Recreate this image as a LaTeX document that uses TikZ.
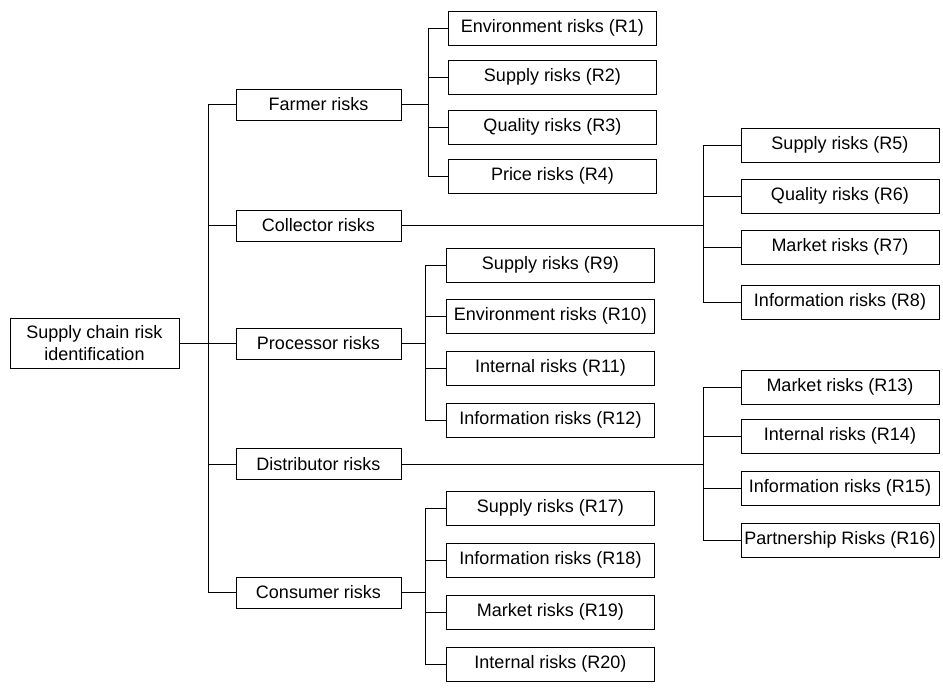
\documentclass[tikz,border=0pt]{standalone}
\usepackage{fontspec}
\setmainfont{Liberation Sans}
\begin{document}
\begin{tikzpicture}[x=1pt,y=-1pt,
  every node/.style={font=\fontsize{18}{22}\selectfont, inner sep=0pt},
  box/.style={draw=black, line width=1pt, fill=white},
  rootbox/.style={box, minimum width=169pt, minimum height=50pt, align=center},
  stagebox/.style={box, minimum width=165pt, minimum height=31pt},
  leafmid/.style={box, minimum width=208pt, minimum height=34pt},
  leafright/.style={box, minimum width=198pt, minimum height=34pt},
  link/.style={draw=black, line width=1pt}]
\useasboundingbox (0,0) rectangle (943,691);

% root
\node[rootbox] (root) at (94.5,343) {Supply chain risk\\identification};

% stages
\node[stagebox] (farmer)      at (318.5,104.5) {Farmer risks};
\node[stagebox] (collector)   at (318.5,225.5) {Collector risks};
\node[stagebox] (processor)   at (318.5,343.5) {Processor risks};
\node[stagebox] (distributor) at (318.5,464)   {Distributor risks};
\node[stagebox] (consumer)    at (318.5,592.5) {Consumer risks};

% farmer risks
\node[leafmid] (r1) at (552.5,28)  {Environment risks (R1)};
\node[leafmid] (r2) at (552.5,77)  {Supply risks (R2)};
\node[leafmid] (r3) at (552.5,127) {Quality risks (R3)};
\node[leafmid] (r4) at (552.5,176) {Price risks (R4)};

% collector risks
\node[leafright] (r5) at (840,145) {Supply risks (R5)};
\node[leafright] (r6) at (840,196) {Quality risks (R6)};
\node[leafright] (r7) at (840,247) {Market risks (R7)};
\node[leafright] (r8) at (840,302) {Information risks (R8)};

% processor risks
\node[leafmid] (r9)  at (550.5,265) {Supply risks (R9)};
\node[leafmid] (r10) at (550.5,316) {Environment risks (R10)};
\node[leafmid] (r11) at (550.5,368) {Internal risks (R11)};
\node[leafmid] (r12) at (550.5,420) {Information risks (R12)};

% distributor risks
\node[leafright] (r13) at (840,387) {Market risks (R13)};
\node[leafright] (r14) at (840,436) {Internal risks (R14)};
\node[leafright] (r15) at (840,488) {Information risks (R15)};
\node[leafright] (r16) at (840,540) {Partnership Risks (R16)};

% consumer risks
\node[leafmid] (r17) at (550.5,508) {Supply risks (R17)};
\node[leafmid] (r18) at (550.5,560) {Information risks (R18)};
\node[leafmid] (r19) at (550.5,612) {Market risks (R19)};
\node[leafmid] (r20) at (550.5,664) {Internal risks (R20)};

% junction points
\coordinate (jroot) at (208,343);
\coordinate (jfar)  at (428,104.5);
\coordinate (jcol)  at (703,225.5);
\coordinate (jpro)  at (425,343.5);
\coordinate (jdis)  at (703,464);
\coordinate (jcon)  at (425,592.5);

% connectors
\draw[link] (root.east) -- (jroot);
\foreach \n in {farmer,collector,processor,distributor,consumer}
  \draw[link] (jroot) |- (\n.west);

\draw[link] (farmer.east) -- (jfar);
\foreach \n in {r1,r2,r3,r4} \draw[link] (jfar) |- (\n.west);

\draw[link] (collector.east) -- (jcol);
\foreach \n in {r5,r6,r7,r8} \draw[link] (jcol) |- (\n.west);

\draw[link] (processor.east) -- (jpro);
\foreach \n in {r9,r10,r11,r12} \draw[link] (jpro) |- (\n.west);

\draw[link] (distributor.east) -- (jdis);
\foreach \n in {r13,r14,r15,r16} \draw[link] (jdis) |- (\n.west);

\draw[link] (consumer.east) -- (jcon);
\foreach \n in {r17,r18,r19,r20} \draw[link] (jcon) |- (\n.west);
\end{tikzpicture}
\end{document}
